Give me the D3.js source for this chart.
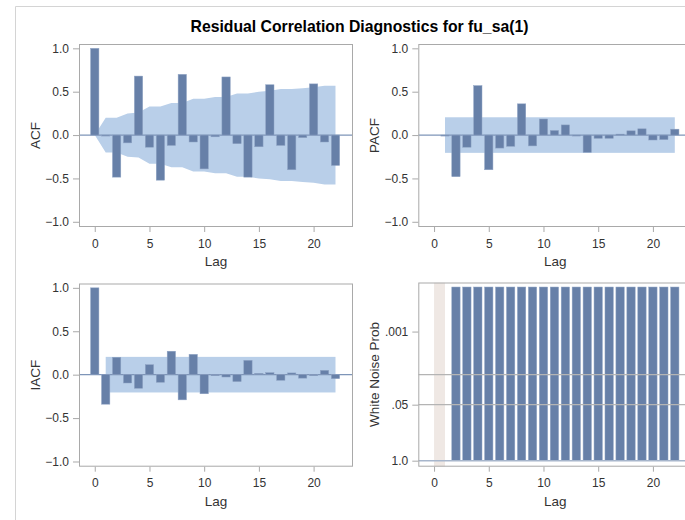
<!DOCTYPE html>
<html>
<head>
<meta charset="utf-8">
<script src="https://cdn.jsdelivr.net/npm/d3@7"></script>
<style>
    body { margin: 0; background: #fff; }
    svg { display: block; font-family: "Liberation Sans", Arial, sans-serif; }
</style>
</head>
<body>
<div id="chart"></div>
<script>
// values
const lags = [0, 1, 2, 3, 4, 5, 6, 7, 8, 9, 10, 11, 12, 13, 14, 15, 16, 17, 18, 19, 20, 21, 22];
const acfValues = [1.0, -0.01, -0.485, -0.09, 0.68, -0.14, -0.52, -0.12, 0.70, -0.08, -0.39, -0.02,
    0.67, -0.10, -0.485, -0.135, 0.58, -0.12, -0.40, -0.03, 0.59, -0.08, -0.35];
const acfBandUpper = [0, 0.20, 0.20, 0.25, 0.26, 0.33, 0.33, 0.37, 0.37, 0.42, 0.42, 0.44,
    0.44, 0.48, 0.48, 0.50, 0.51, 0.53, 0.53, 0.54, 0.55, 0.57, 0.57];

const pacfLags = [1, 2, 3, 4, 5, 6, 7, 8, 9, 10, 11, 12, 13, 14, 15, 16, 17, 18, 19, 20, 21, 22];
const pacfValues = [-0.01, -0.48, -0.14, 0.57, -0.40, -0.15, -0.13, 0.36, -0.125, 0.185, 0.053,
    0.117, -0.008, -0.20, -0.038, -0.038, 0.011, 0.049, 0.072, -0.057, -0.053, 0.068];
const pacfBandLimit = 0.205;

const iacfValues = [1.0, -0.34, 0.20, -0.096, -0.157, 0.115, -0.088, 0.27, -0.29, 0.234, -0.22,
    -0.01, -0.027, -0.08, 0.165, 0.015, 0.023, -0.065, 0.02, -0.04, -0.003, 0.05, -0.046];
const iacfBandLimit = 0.205;

// p-values are all < .0001, so the bars run to the top of the axis
const wnLags = [2, 3, 4, 5, 6, 7, 8, 9, 10, 11, 12, 13, 14, 15, 16, 17, 18, 19, 20, 21, 22];
const wnProb = [0.0001, 0.0001, 0.0001, 0.0001, 0.0001, 0.0001, 0.0001, 0.0001, 0.0001, 0.0001, 0.0001,
    0.0001, 0.0001, 0.0001, 0.0001, 0.0001, 0.0001, 0.0001, 0.0001, 0.0001, 0.0001];
const wnUntested = [0, 1];
const wnRefLines = [0.01, 0.05];

const xTicks = [0, 5, 10, 15, 20];
const corrTicks = [-1, -0.5, 0, 0.5, 1];
const wnTicks = [0.001, 0.05, 1];
const wnTickLabels = [".001", ".05", "1.0"];

const title = "Residual Correlation Diagnostics for fu_sa(1)";

const width = 685;
const height = 520;
const barColor = "#6780a8";
const bandColor = "#b9cfe9";
const frameColor = "#a9a9a9";
const textColor = "#333";
const barHalf = 0.38;

const svg = d3.select("#chart")
    .append("svg")
    .attr("width", width)
    .attr("height", height);

// outer graph border (only top and left visible in the crop)
svg.append("path")
    .attr("d", "M15.5,520V6.5H685")
    .attr("fill", "none")
    .attr("stroke", "#d4d4d4");

svg.append("text")
    .attr("x", 359.5)
    .attr("y", 32)
    .attr("text-anchor", "middle")
    .attr("font-size", "15.75px")
    .attr("font-weight", "bold")
    .attr("fill", "#000")
    .text(title);

function makePanel({ left, top, w, h, yLabel, y }) {
    const x = d3.scaleLinear().domain([-1.44, 23.6]).range([left, left + w]);
    const g = svg.append("g");
    const clipId = "clip" + Math.round(left) + Math.round(top);
    svg.append("clipPath").attr("id", clipId)
        .append("rect").attr("x", left).attr("y", top).attr("width", w).attr("height", h);
    const plot = g.append("g").attr("clip-path", `url(#${clipId})`);
    return { x, y, g, plot, left, top, w, h, yLabel };
}

function finishPanel(panel, yTickValues, yTickFormat) {
    const { x, y, g, left, top, w, h, yLabel } = panel;

    g.append("rect")
        .attr("x", left + 0.5).attr("y", top + 0.5)
        .attr("width", w - 1).attr("height", h - 1)
        .attr("fill", "none")
        .attr("stroke", frameColor);

    const xAxis = g.append("g")
        .attr("transform", `translate(0,${top + h})`)
        .call(d3.axisBottom(x).tickValues(xTicks).tickSize(5).tickPadding(7));
    const yAxis = g.append("g")
        .attr("transform", `translate(${left},0)`)
        .call(d3.axisLeft(y).tickValues(yTickValues).tickFormat(yTickFormat).tickSize(6).tickPadding(4));

    [xAxis, yAxis].forEach(a => {
        a.select(".domain").remove();
        a.selectAll("line").attr("stroke", frameColor);
        a.selectAll("text")
            .attr("font-size", "12px")
            .attr("font-family", "Liberation Sans, Arial, sans-serif")
            .attr("fill", textColor);
    });

    g.append("text")
        .attr("x", left + w / 2)
        .attr("y", top + h + 39)
        .attr("text-anchor", "middle")
        .attr("font-size", "13.5px")
        .attr("fill", textColor)
        .text("Lag");

    g.append("text")
        .attr("transform", `translate(${left - 39},${top + h / 2}) rotate(-90)`)
        .attr("text-anchor", "middle")
        .attr("font-size", "13.5px")
        .attr("fill", textColor)
        .text(yLabel);
}

function drawBars(panel, xs, vs) {
    const { x, y, plot } = panel;
    plot.selectAll(".bar")
        .data(xs.map((d, i) => ({ lag: d, v: vs[i] })))
        .join("rect")
        .attr("class", "bar")
        .attr("x", d => x(d.lag - barHalf))
        .attr("width", d => x(d.lag + barHalf) - x(d.lag - barHalf))
        .attr("y", d => Math.min(y(0), y(d.v)))
        .attr("height", d => Math.max(1, Math.abs(y(d.v) - y(0))))
        .attr("fill", barColor)
        .attr("stroke", "#8fa3c4")
        .attr("stroke-width", 0.5);
}

function zeroLine(panel) {
    const { y, plot, left, w } = panel;
    plot.append("line")
        .attr("x1", left).attr("x2", left + w)
        .attr("y1", y(0)).attr("y2", y(0))
        .attr("stroke", "#7e95b8")
        .attr("stroke-width", 1.2);
}

function flatBand(panel, limit) {
    const { x, y, plot } = panel;
    plot.append("rect")
        .attr("x", x(1)).attr("width", x(22) - x(1))
        .attr("y", y(limit)).attr("height", y(-limit) - y(limit))
        .attr("fill", bandColor);
}

const corrY = (top, h) => d3.scaleLinear().domain([-1.06, 1.05]).range([top + h, top]);
const corrFormat = d3.format(".1f");

// ACF
const acf = makePanel({ left: 79, top: 44, w: 274, h: 183, yLabel: "ACF", y: corrY(44, 183) });
acf.plot.append("path")
    .datum(lags.map((d, i) => ({ lag: d, u: acfBandUpper[i] })))
    .attr("d", d3.area().x(d => acf.x(d.lag)).y0(d => acf.y(-d.u)).y1(d => acf.y(d.u)))
    .attr("fill", bandColor);
zeroLine(acf);
drawBars(acf, lags, acfValues);
finishPanel(acf, corrTicks, corrFormat);

// PACF
const pacf = makePanel({ left: 418.3, top: 44, w: 274, h: 183, yLabel: "PACF", y: corrY(44, 183) });
flatBand(pacf, pacfBandLimit);
zeroLine(pacf);
drawBars(pacf, pacfLags, pacfValues);
finishPanel(pacf, corrTicks, corrFormat);

// IACF
const iacf = makePanel({ left: 79, top: 283.5, w: 274, h: 183.2, yLabel: "IACF", y: corrY(283.5, 183.2) });
flatBand(iacf, iacfBandLimit);
zeroLine(iacf);
drawBars(iacf, lags, iacfValues);
finishPanel(iacf, corrTicks, corrFormat);

// White noise probabilities, log scale with 1.0 at the bottom
const wnY = d3.scaleLog().domain([Math.pow(10, 0.14), Math.pow(10, -4.14)]).range([466.7, 282.5]);
const wn = makePanel({ left: 418.3, top: 282.5, w: 274, h: 184.2, yLabel: "White Noise Prob", y: wnY });
wn.plot.append("rect")
    .attr("x", wn.x(wnUntested[0])).attr("width", wn.x(wnUntested[1]) - wn.x(wnUntested[0]))
    .attr("y", wn.top).attr("height", wn.h)
    .attr("fill", "#efe8e4");
wn.plot.selectAll(".bar")
    .data(wnLags.map((d, i) => ({ lag: d, p: wnProb[i] })))
    .join("rect")
    .attr("class", "bar")
    .attr("x", d => wn.x(d.lag - barHalf))
    .attr("width", d => wn.x(d.lag + barHalf) - wn.x(d.lag - barHalf))
    .attr("y", d => wnY(d.p) - 1.5)
    .attr("height", d => wnY(1) - wnY(d.p) + 1.5)
    .attr("fill", barColor)
    .attr("stroke", "#8fa3c4")
    .attr("stroke-width", 0.5);
wn.plot.append("line")
    .attr("x1", wn.left).attr("x2", wn.left + wn.w)
    .attr("y1", wnY(1)).attr("y2", wnY(1))
    .attr("stroke", "#a7b6cc")
    .attr("stroke-width", 1.5);
wn.plot.selectAll(".ref")
    .data(wnRefLines)
    .join("line")
    .attr("class", "ref")
    .attr("x1", wn.left).attr("x2", wn.left + wn.w)
    .attr("y1", d => wnY(d)).attr("y2", d => wnY(d))
    .attr("stroke", "#b4b4b4")
    .attr("stroke-width", 1.2);
finishPanel(wn, wnTicks, (d, i) => wnTickLabels[i]);
</script>
</body>
</html>
